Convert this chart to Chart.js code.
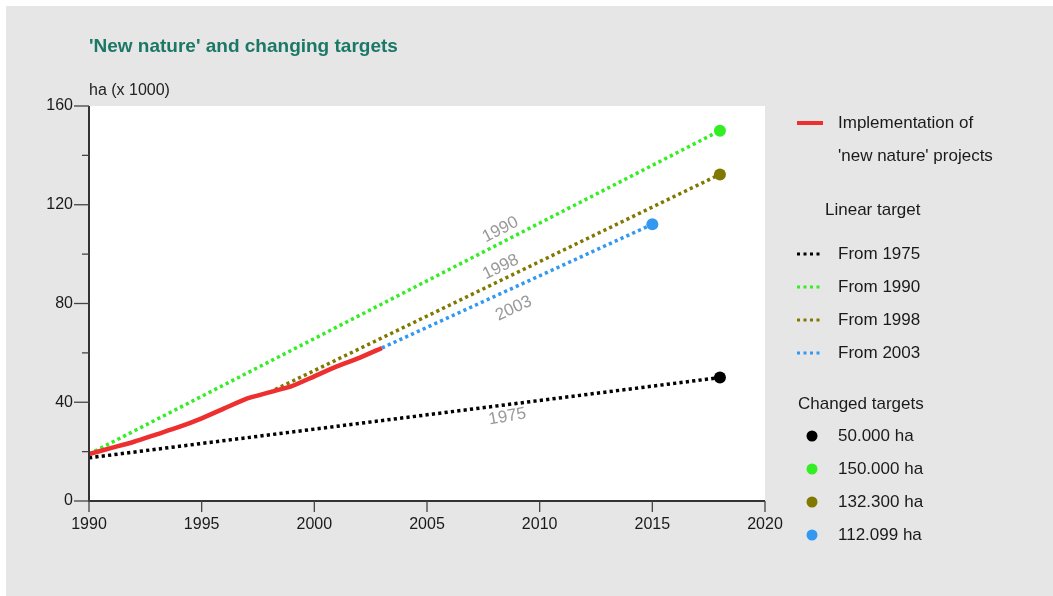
<!DOCTYPE html>
<html>
<head>
<meta charset="utf-8">
<title>'New nature' and changing targets</title>
<script src="https://cdn.jsdelivr.net/npm/chart.js@4/dist/chart.umd.min.js"></script>
<style>
  html, body { margin: 0; padding: 0; background: #ffffff; }
  #wrap { position: relative; width: 1053px; height: 596px; }
</style>
</head>
<body>
<div id="wrap"><canvas id="chart" width="1053" height="596"></canvas></div>
<script>
// data (ha x 1000)
const implYears = [1990, 1991, 1992, 1993, 1994, 1995, 1996, 1997, 1998, 1999, 2000, 2001, 2002, 2003];
const implValues = [19, 21.5, 24, 27, 30, 33.5, 37.5, 41.5, 44, 46.5, 50.5, 54.5, 58, 62];

const years1975 = [1990, 2018];
const values1975 = [17.5, 50];
const years1990 = [1990, 2018];
const values1990 = [19, 150];
const years1998 = [1998, 2018];
const values1998 = [44, 132.3];
const years2003 = [2003, 2015];
const values2003 = [62, 112.099];

const xTicks = [1990, 1995, 2000, 2005, 2010, 2015, 2020];
const yTicks = [0, 40, 80, 120, 160];

const FONT = "'Liberation Sans', Arial, sans-serif";

function toPoints(xs, ys) {
  return xs.map((x, i) => ({ x: x, y: ys[i] }));
}

function lastPointRadius(ctx) {
  return ctx.dataIndex === ctx.dataset.data.length - 1 ? 6 : 0;
}

const targets = [
  { label: 'From 1975', tag: '1975', color: '#000000', dot: '50.000 ha', xs: years1975, ys: values1975, side: 1 },
  { label: 'From 1990', tag: '1990', color: '#33ee22', dot: '150.000 ha', xs: years1990, ys: values1990, side: -1 },
  { label: 'From 1998', tag: '1998', color: '#807800', dot: '132.300 ha', xs: years1998, ys: values1998, side: -1 },
  { label: 'From 2003', tag: '2003', color: '#3399f0', dot: '112.099 ha', xs: years2003, ys: values2003, side: 1 }
];

const datasets = [{
  label: "Implementation of 'new nature' projects",
  data: toPoints(implYears, implValues),
  borderColor: '#ee2f2f',
  borderWidth: 4.5,
  pointRadius: 0,
  tension: 0.2,
  order: 0
}];

targets.forEach(t => {
  datasets.push({
    label: t.label,
    data: toPoints(t.xs, t.ys),
    borderColor: t.color,
    backgroundColor: t.color,
    borderWidth: 3.5,
    borderDash: [3.2, 3.2],
    pointRadius: lastPointRadius,
    pointBorderWidth: 0,
    order: 1
  });
});

// backgrounds
const backdrop = {
  id: 'backdrop',
  beforeDraw(chart) {
    const ctx = chart.ctx;
    const a = chart.chartArea;
    ctx.save();
    ctx.fillStyle = '#ffffff';
    ctx.fillRect(0, 0, chart.width, chart.height);
    ctx.fillStyle = '#e6e6e6';
    ctx.fillRect(6, 6, chart.width - 6, chart.height - 6);
    ctx.fillStyle = '#ffffff';
    ctx.fillRect(a.left, a.top, a.right - a.left, a.bottom - a.top);
    ctx.restore();
  }
};

// axis ticks (major + minor) and texts
const extras = {
  id: 'extras',
  afterDraw(chart) {
    const ctx = chart.ctx;
    const xs = chart.scales.x;
    const ys = chart.scales.y;
    const a = chart.chartArea;
    ctx.save();

    // axis lines
    ctx.strokeStyle = '#333333';
    ctx.lineWidth = 2;
    ctx.beginPath();
    ctx.moveTo(a.left, a.top);
    ctx.lineTo(a.left, a.bottom);
    ctx.lineTo(a.right, a.bottom);
    ctx.stroke();

    // y ticks
    ctx.lineWidth = 1.3;
    ctx.strokeStyle = '#444444';
    for (let v = 0; v <= 160; v += 20) {
      const y = ys.getPixelForValue(v);
      const len = v % 40 === 0 ? 15 : 7;
      ctx.beginPath();
      ctx.moveTo(a.left - len, y);
      ctx.lineTo(a.left, y);
      ctx.stroke();
    }
    // x ticks
    xTicks.forEach(v => {
      const x = xs.getPixelForValue(v);
      ctx.beginPath();
      ctx.moveTo(x, a.bottom);
      ctx.lineTo(x, a.bottom + 11);
      ctx.stroke();
    });

    // title and unit
    ctx.textBaseline = 'middle';
    ctx.textAlign = 'left';
    ctx.fillStyle = '#1b7866';
    ctx.font = 'bold 19px ' + FONT;
    ctx.fillText("'New nature' and changing targets", a.left, 47);
    ctx.fillStyle = '#222222';
    ctx.font = '16px ' + FONT;
    ctx.fillText('ha (x 1000)', a.left, 91);

    // rotated labels on target lines
    ctx.fillStyle = '#999999';
    ctx.font = '17px ' + FONT;
    ctx.textAlign = 'center';
    const labelYear = 2008.5;
    targets.forEach(t => {
      const x0 = xs.getPixelForValue(t.xs[0]), y0 = ys.getPixelForValue(t.ys[0]);
      const x1 = xs.getPixelForValue(t.xs[1]), y1 = ys.getPixelForValue(t.ys[1]);
      const ang = Math.atan2(y1 - y0, x1 - x0);
      const f = (labelYear - t.xs[0]) / (t.xs[1] - t.xs[0]);
      const val = t.ys[0] + f * (t.ys[1] - t.ys[0]);
      const px = xs.getPixelForValue(labelYear);
      const py = ys.getPixelForValue(val);
      const off = t.side > 0 ? (t.tag === '2003' ? 19 : 12) : 12;
      ctx.save();
      ctx.translate(px + Math.sin(ang) * -off * t.side, py + Math.cos(ang) * off * t.side);
      ctx.rotate(ang - (t.tag === '1975' ? 0.05 : 0));
      ctx.fillText(t.tag, 0, 0);
      ctx.restore();
    });

    // legend
    const lx = 797, tx = 838;
    ctx.textAlign = 'left';
    ctx.fillStyle = '#1a1a1a';
    ctx.font = '17px ' + FONT;
    ctx.strokeStyle = datasets[0].borderColor;
    ctx.lineWidth = 4;
    ctx.beginPath();
    ctx.moveTo(lx, 123);
    ctx.lineTo(lx + 26, 123);
    ctx.stroke();
    ctx.fillText('Implementation of', tx, 123);
    ctx.fillText("'new nature' projects", tx, 156);
    ctx.fillText('Linear target', 825, 210);

    targets.forEach((t, i) => {
      const y = 254 + i * 33;
      ctx.fillStyle = t.color;
      for (let k = 0; k < 4; k++) ctx.fillRect(lx + k * 6.5, y - 1.5, 3, 3);
      ctx.fillStyle = '#1a1a1a';
      ctx.fillText(t.label, tx, y);
    });

    ctx.fillText('Changed targets', 798, 404);
    targets.forEach((t, i) => {
      const y = 436 + i * 33;
      ctx.fillStyle = t.color;
      ctx.beginPath();
      ctx.arc(812, y, 5.5, 0, Math.PI * 2);
      ctx.fill();
      ctx.fillStyle = '#1a1a1a';
      ctx.fillText(t.dot, tx, y);
    });

    ctx.restore();
  }
};

new Chart(document.getElementById('chart').getContext('2d'), {
  type: 'line',
  data: { datasets: datasets },
  options: {
    responsive: false,
    animation: false,
    layout: { padding: { left: 0, top: 106, right: 288, bottom: 0 } },
    plugins: { legend: { display: false }, tooltip: { enabled: false } },
    scales: {
      x: {
        type: 'linear',
        min: 1990,
        max: 2020,
        afterFit(scale) { scale.height = 95; },
        afterBuildTicks(scale) { scale.ticks = xTicks.map(v => ({ value: v })); },
        grid: { display: false, drawTicks: false },
        border: { display: false },
        ticks: {
          color: '#1a1a1a', font: { family: FONT, size: 16 }, padding: 14, maxRotation: 0,
          callback: v => String(v)
        }
      },
      y: {
        min: 0,
        max: 160,
        afterFit(scale) { scale.width = 89; },
        afterBuildTicks(scale) { scale.ticks = yTicks.map(v => ({ value: v })); },
        grid: { display: false, drawTicks: false },
        border: { display: false },
        ticks: { color: '#1a1a1a', font: { family: FONT, size: 16 }, padding: 16, callback: v => String(v) }
      }
    }
  },
  plugins: [backdrop, extras]
});
</script>
</body>
</html>
